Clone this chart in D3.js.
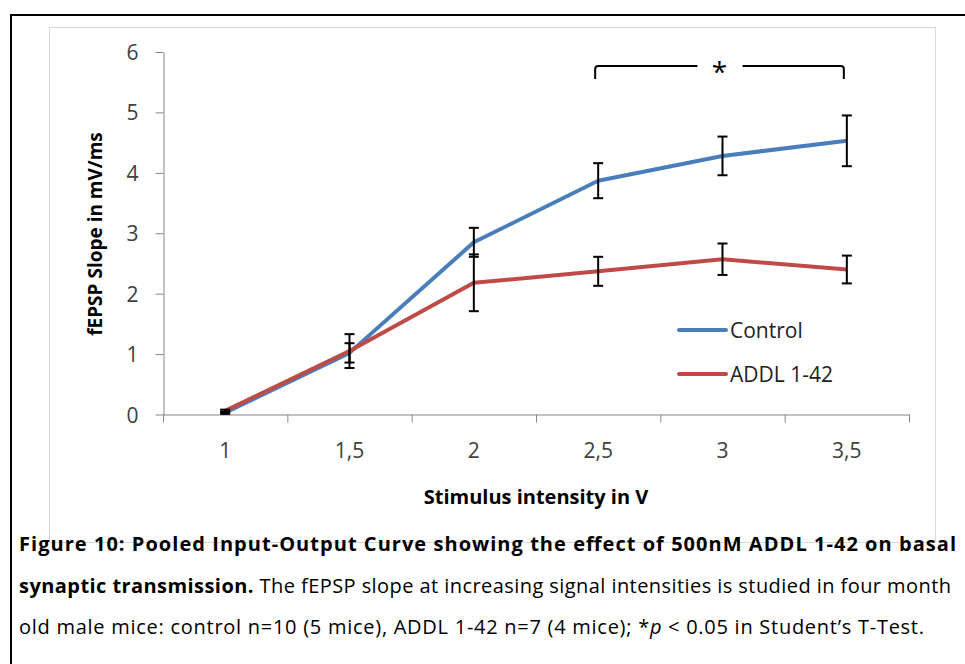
<!DOCTYPE html>
<meta charset="utf-8">
<style>
    body { margin: 0; background: #fff; }
    svg text { font-family: "Open Sans", Lato, sans-serif; }
    .tick text { fill: #404040; font-size: 21px; }
    .axis path, .axis line { stroke: #868686; }
</style>
<body>
<script src="https://d3js.org/d3.v7.min.js"></script>
<script>

const categories = ["1", "1,5", "2", "2,5", "3", "3,5"];
const controlMean = [0.03, 1.02, 2.85, 3.87, 4.28, 4.53];
const controlErr = [0.02, 0.16, 0.24, 0.29, 0.32, 0.42];
const addlMean = [0.06, 1.05, 2.18, 2.37, 2.57, 2.40];
const addlErr = [0.02, 0.28, 0.47, 0.24, 0.26, 0.23];
const yTicks = [0, 1, 2, 3, 4, 5, 6];

const series = [
    { name: "Control", color: "#4a7ebb", mean: controlMean, err: controlErr },
    { name: "ADDL 1-42", color: "#be4b48", mean: addlMean, err: addlErr }
];

const width = 965;
const height = 664;

const svg = d3.select("body").append("svg")
    .attr("width", width)
    .attr("height", height);

// outer page border and chart frame
svg.append("path")
    .attr("d", "M11,700 V15 H980")
    .attr("fill", "none")
    .attr("stroke", "#000")
    .attr("stroke-width", 2);

svg.append("rect")
    .attr("x", 49.5).attr("y", 27.5)
    .attr("width", 886).attr("height", 515)
    .attr("fill", "none")
    .attr("stroke", "#d9d9d9");

const x = d3.scaleBand().domain(categories).range([163, 909]);
const xIdx = d3.scaleLinear().domain([0, categories.length]).range([163, 909]);
const y = d3.scaleLinear().domain([0, 6]).range([414.5, 52]);
const cx = c => x(c) + x.bandwidth() / 2;

// y axis
svg.append("g")
    .attr("class", "axis")
    .attr("transform", "translate(163.5,0)")
    .call(d3.axisLeft(y).tickValues(yTicks).tickFormat(d3.format("d"))
        .tickSize(8).tickSizeOuter(0).tickPadding(17))
    .call(g => g.selectAll(".tick text").attr("dy", "0.36em"));

// x axis: ticks on band edges, labels in the middle
svg.append("g")
    .attr("class", "axis")
    .attr("transform", "translate(0,414.5)")
    .call(d3.axisBottom(xIdx).tickValues(d3.range(categories.length + 1)).tickSize(8).tickSizeOuter(0).tickFormat(""));

svg.append("g")
    .attr("class", "axis")
    .attr("transform", "translate(0,414.5)")
    .call(d3.axisBottom(x).tickSize(0).tickPadding(29))
    .call(g => g.select(".domain").remove());

// axis titles
svg.append("text")
    .attr("transform", "translate(95,234) rotate(-90)")
    .attr("text-anchor", "middle")
    .attr("dominant-baseline", "central")
    .style("font-size", "19px")
    .style("font-weight", "bold")
    .text("fEPSP Slope in mV/ms");

svg.append("text")
    .attr("x", 536).attr("y", 504)
    .attr("text-anchor", "middle")
    .style("font-size", "20px")
    .style("font-weight", "bold")
    .text("Stimulus intensity in V");

// lines
const line = d3.line()
    .x((d, i) => cx(categories[i]))
    .y(d => y(d));

series.forEach(s => {
    svg.append("path")
        .datum(s.mean)
        .attr("fill", "none")
        .attr("stroke", s.color)
        .attr("stroke-width", 4)
        .attr("stroke-linejoin", "round")
        .attr("d", line);
});

// error bars
series.forEach(s => {
    const g = svg.append("g")
        .attr("stroke", "#000")
        .attr("stroke-width", 2);
    s.mean.forEach((m, i) => {
        const px = cx(categories[i]);
        const top = y(m + s.err[i]);
        const bot = y(m - s.err[i]);
        g.append("line").attr("x1", px).attr("x2", px).attr("y1", top).attr("y2", bot);
        g.append("line").attr("x1", px - 5).attr("x2", px + 5).attr("y1", top).attr("y2", top);
        g.append("line").attr("x1", px - 5).attr("x2", px + 5).attr("y1", bot).attr("y2", bot);
    });
});

// legend
series.forEach((s, i) => {
    const ly = 330 + i * 44;
    svg.append("line")
        .attr("x1", 679).attr("x2", 726)
        .attr("y1", ly).attr("y2", ly)
        .attr("stroke", s.color)
        .attr("stroke-width", 4)
        .attr("stroke-linecap", "round");
    svg.append("text")
        .attr("x", 730).attr("y", ly)
        .attr("dominant-baseline", "central")
        .style("font-size", "21px")
        .style("fill", "#222")
        .text(s.name);
});

// significance bracket over 2,5 .. 3,5
const bL = cx("2,5") - 3, bR = cx("3,5") - 3, bY = 66, starX = (bL + bR) / 2;
svg.append("path")
    .attr("d", `M${bL},79 V69 Q${bL},${bY} ${bL + 3},${bY} H${starX - 22}
                M${starX + 23},${bY} H${bR - 3} Q${bR},${bY} ${bR},69 V79`)
    .attr("fill", "none")
    .attr("stroke", "#000")
    .attr("stroke-width", 2);
svg.append("text")
    .attr("x", starX).attr("y", 82)
    .attr("text-anchor", "middle")
    .style("font-size", "28px")
    .text("*");

// caption
const cap = svg.append("g").style("font-size", "20px").style("fill", "#000");

cap.append("text")
    .attr("x", 19).attr("y", 551)
    .attr("textLength", 937)
    .attr("lengthAdjust", "spacing")
    .style("font-weight", "bold")
    .text("Figure 10: Pooled Input-Output Curve showing the effect of 500nM ADDL 1-42 on basal");

const l2 = cap.append("text")
    .attr("x", 19).attr("y", 593)
    .attr("textLength", 932)
    .attr("lengthAdjust", "spacing");
l2.append("tspan").style("font-weight", "bold").text("synaptic transmission.");
l2.append("tspan").text(" The fEPSP slope at increasing signal intensities is studied in four month");

const l3 = cap.append("text")
    .attr("x", 19).attr("y", 634)
    .attr("textLength", 905)
    .attr("lengthAdjust", "spacing");
l3.append("tspan").text("old male mice: control n=10 (5 mice), ADDL 1-42 n=7 (4 mice); *");
l3.append("tspan").style("font-style", "italic").text("p");
l3.append("tspan").text(" < 0.05 in Student\u2019s T-Test.");

</script>
</body>
</html>
